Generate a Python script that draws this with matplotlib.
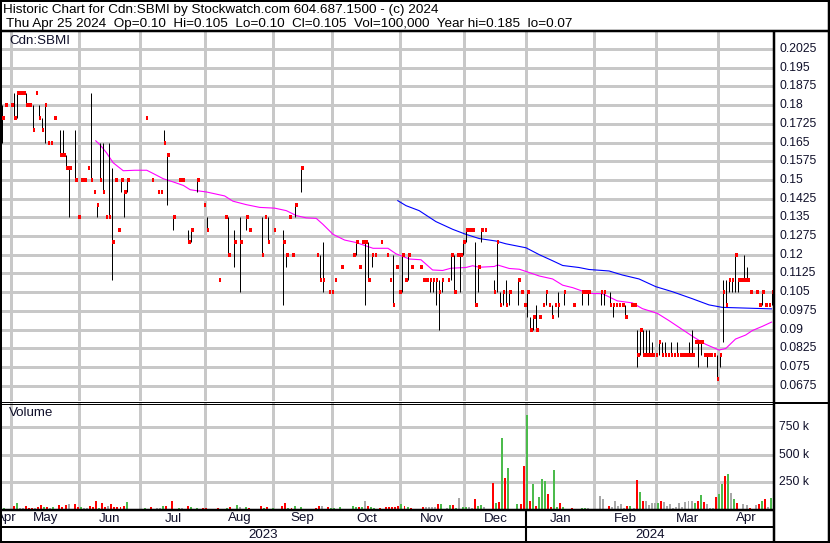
import matplotlib
matplotlib.use('Agg')
import matplotlib.pyplot as plt
from matplotlib.lines import Line2D
import numpy as np

plt.rcParams['font.family'] = ['Liberation Sans', 'DejaVu Sans']

# ---------------- data ----------------
title_line1 = "Historic Chart for Cdn:SBMI by Stockwatch.com 604.687.1500 - (c) 2024"
title_line2 = ("Thu Apr 25 2024  Op=0.10  Hi=0.105  Lo=0.10  Cl=0.105  "
               "Vol=100,000  Year hi=0.185  lo=0.07")
symbol = "Cdn:SBMI"

# trading-day index (0 = Apr 25 2023 ... 252 = Apr 25 2024)
price_days = [
    0, 1, 3, 4, 5, 6, 7, 8, 9, 10,
    11, 12, 13, 14, 15, 16, 17, 19, 20, 21,
    22, 24, 25, 26, 27, 28, 29, 30, 31, 32,
    33, 34, 35, 36, 37, 38, 39, 40, 41, 47,
    49, 51, 52, 53, 54, 56, 58, 59, 61, 62,
    64, 66, 67, 71, 73, 74, 76, 78, 80, 81,
    85, 86, 87, 89, 92, 93, 94, 95, 96, 98,
    103, 104, 105, 107, 108, 109, 111, 115, 116, 117,
    118, 119, 120, 121, 122, 124, 126, 127, 128, 129,
    130, 131, 132, 133, 134, 137, 138, 139, 140, 141,
    142, 143, 144, 146, 147, 148, 149, 150, 151, 152,
    153, 154, 155, 156, 157, 158, 161, 162, 163, 164,
    165, 166, 169, 170, 171, 172, 173, 174, 175, 176,
    177, 178, 179, 180, 181, 182, 184, 187, 190, 191,
    192, 196, 197, 199, 200, 201, 202, 203, 204, 206,
    207, 208, 209, 210, 211, 212, 213, 214, 215, 216,
    217, 218, 219, 220, 221, 222, 223, 224, 225, 226,
    227, 228, 229, 230, 231, 232, 233, 234, 235, 236,
    237, 238, 239, 240, 241, 242, 243, 244, 245, 247,
    248, 249, 250, 251, 252]
highs = [
    .18, .18, .18, .185, .185, .185, .185, .185, .18, .18,
    .185, .18, .175, .18, .165, .165, .175, .17, .17, .16,
    .155, .17, .135, .15, .15, .155, .185, .145, .14, .165,
    .165, .135, .165, .155, .15, .13, .15, .145, .15, .175,
    .15, .145, .145, .17, .16, .135, .15, .15, .13, .13,
    .15, .14, .135, .11, .135, .135, .13, .135, .135, .13,
    .135, .135, .135, .13, .13, .12, .135, .12, .14, .155,
    .12, .12, .125, .105, .105, .11, .115, .12, .125, .115,
    .125, .125, .125, .12, .12, .125, .12, .11, .12, .115,
    .105, .12, .11, .12, .115, .115, .11, .11, .11, .11,
    .11, .11, .11, .11, .12, .12, .12, .12, .125, .13,
    .13, .13, .125, .115, .13, .13, .11, .125, .105, .105,
    .11, .105, .11, .105, .10, .105, .095, .095, .10, .095,
    .10, .105, .10, .10, .10, .105, .105, .10, .105, .105,
    .105, .105, .105, .105, .10, .10, .10, .10, .10, .10,
    .10, .09, .09, .09, .09, .09, .085, .08, .085, .085,
    .085, .08, .085, .08, .085, .08, .08, .08, .085, .09,
    .085, .085, .085, .08, .08, .08, .08, .08, .08, .11,
    .11, .11, .11, .12, .11, .11, .12, .115, .105, .105,
    .10, .105, .10, .10, .105]
lows = [
    .165, .18, .18, .175, .175, .185, .185, .18, .18, .17,
    .185, .175, .17, .165, .165, .165, .175, .16, .16, .155,
    .135, .15, .135, .15, .15, .155, .15, .145, .135, .15,
    .145, .135, .135, .11, .15, .13, .145, .135, .145, .175,
    .15, .145, .145, .165, .14, .13, .15, .15, .125, .125,
    .145, .14, .13, .11, .135, .12, .115, .105, .13, .13,
    .12, .135, .125, .13, .10, .115, .135, .12, .135, .145,
    .12, .11, .105, .105, .105, .11, .115, .12, .12, .115,
    .125, .10, .11, .115, .12, .125, .12, .11, .10, .115,
    .105, .105, .11, .11, .115, .115, .11, .11, .105, .105,
    .10, .09, .105, .11, .11, .105, .12, .105, .12, .125,
    .13, .13, .10, .105, .125, .13, .105, .105, .10, .10,
    .10, .10, .10, .105, .10, .095, .09, .09, .09, .095,
    .10, .10, .10, .095, .10, .095, .10, .10, .10, .105,
    .10, .10, .10, .10, .095, .10, .10, .10, .095, .10,
    .10, .075, .08, .08, .08, .08, .08, .08, .08, .08,
    .08, .08, .08, .08, .08, .08, .08, .08, .08, .08,
    .085, .075, .08, .08, .075, .08, .08, .07, .075, .085,
    .10, .105, .105, .105, .105, .11, .11, .11, .105, .105,
    .10, .10, .10, .10, .10]
closes = [
    .175, .18, .18, .175, .185, .185, .185, .18, .18, .17,
    .185, .175, .17, .18, .165, .165, .175, .16, .16, .155,
    .155, .15, .135, .15, .15, .155, .15, .145, .14, .15,
    .145, .135, .135, .125, .15, .13, .15, .145, .15, .175,
    .15, .145, .145, .165, .16, .135, .15, .15, .125, .13,
    .15, .14, .13, .11, .135, .12, .125, .125, .135, .13,
    .12, .135, .125, .13, .125, .12, .135, .12, .14, .155,
    .12, .11, .11, .105, .105, .11, .115, .12, .125, .115,
    .125, .125, .11, .12, .12, .125, .12, .11, .10, .115,
    .105, .12, .11, .12, .115, .115, .11, .11, .11, .11,
    .11, .105, .11, .11, .12, .105, .12, .12, .125, .13,
    .13, .13, .10, .115, .13, .13, .105, .125, .10, .105,
    .10, .105, .11, .105, .10, .105, .09, .095, .09, .095,
    .10, .105, .10, .095, .10, .10, .105, .10, .105, .105,
    .105, .105, .105, .10, .10, .10, .10, .10, .095, .10,
    .10, .08, .09, .08, .08, .08, .08, .08, .085, .08,
    .08, .08, .08, .08, .08, .08, .08, .08, .08, .08,
    .085, .085, .085, .08, .08, .08, .08, .07, .08, .105,
    .10, .11, .11, .12, .11, .11, .11, .11, .105, .105,
    .10, .105, .10, .10, .105]

# moving averages (sampled along the drawn lines)
ma_short_days = [30.7, 32.1, 34.1, 36.4, 39.7, 43.5, 47.4, 49.5, 52.8, 56.1, 59.4, 61.6,
                 63.2, 66.9, 72.9, 75.6, 80.0, 84.4, 89.3, 93.1, 96.4, 99.6, 102.9, 105.1,
                 108.4, 112.2, 116.0, 119.3, 121.5, 126.4, 129.0, 133.4, 137.2, 141.0,
                 144.3, 147.0, 151.9, 154.1, 156.3, 161.2, 162.3, 166.1, 169.4, 171.6,
                 175.9, 180.3, 183.6, 186.9, 192.2, 196.6, 201.5, 206.4, 209.7, 214.6,
                 218.4, 222.8, 226.6, 230.4, 234.8, 237.0, 240.2, 243.5, 245.7, 249.0,
                 252.0]
ma_short = [.1657, .1641, .1611, .1569, .1537, .1539, .1539, .1526, .1505, .1492, .1478,
            .1461, .1458, .1452, .1436, .1415, .1401, .1390, .1387, .1377, .1357, .1348,
            .1346, .1322, .1282, .1259, .1249, .1235, .1226, .1226, .1204, .1183, .1180,
            .1139, .1137, .1146, .1149, .1156, .1150, .1153, .1159, .1145, .1142, .1133,
            .1115, .1103, .1078, .1068, .1045, .1044, .1015, .1007, .0984, .0965, .0936,
            .0900, .0869, .0841, .0818, .0824, .0862, .0878, .0896, .0913, .0930]
ma_long_days = [129.6, 132.3, 136.6, 142.1, 147.6, 151.9, 156.3, 161.8, 165.0, 171.6,
                176.0, 180.3, 183.6, 188.9, 192.2, 198.8, 203.1, 208.6, 214.1, 219.5,
                226.0, 231.5, 235.9, 252.0]
ma_long = [.1417, .1397, .1377, .1333, .1302, .1282, .1265, .1255, .1244, .1228, .1200,
           .1176, .1157, .1149, .1141, .1135, .1119, .1103, .1072, .1052, .1024, .0999,
           .0989, .0983]

# volume (thousands of shares); direction g = up, r = down, n = unchanged
vol_days = [
    0, 1, 4, 5, 6, 7, 8, 9, 10, 11,
    12, 13, 14, 15, 16, 17, 19, 20, 21, 22,
    24, 25, 26, 27, 28, 29, 30, 31, 32, 33,
    34, 35, 36, 37, 38, 39, 40, 41, 47, 49,
    51, 52, 53, 54, 56, 58, 59, 61, 62, 64,
    66, 67, 71, 74, 75, 77, 78, 80, 81, 85,
    86, 87, 89, 92, 93, 94, 95, 96, 98, 103,
    104, 105, 107, 108, 109, 111, 115, 116, 117, 118,
    119, 120, 121, 122, 124, 126, 127, 128, 129, 130,
    131, 132, 133, 134, 138, 139, 140, 141, 142, 143,
    144, 146, 147, 148, 149, 150, 151, 152, 153, 154,
    155, 156, 157, 158, 161, 162, 163, 164, 165, 166,
    169, 170, 171, 172, 173, 174, 175, 176, 177, 178,
    179, 180, 181, 182, 183, 184, 187, 190, 191, 192,
    196, 197, 199, 200, 201, 202, 203, 204, 205, 206,
    207, 208, 209, 210, 211, 212, 213, 214, 215, 216,
    217, 218, 219, 220, 221, 222, 223, 224, 225, 226,
    227, 228, 229, 230, 231, 232, 233, 234, 235, 236,
    237, 238, 239, 240, 241, 243, 244, 245, 247, 248,
    249, 250, 251, 252]
volumes = [
    64, 9, 31, 55, 9, 9, 28, 9, 9, 9,
    15, 37, 21, 21, 12, 21, 37, 21, 37, 46,
    46, 15, 21, 12, 12, 31, 15, 74, 12, 58,
    15, 31, 49, 15, 21, 15, 28, 64, 9, 18,
    9, 12, 28, 31, 74, 12, 12, 28, 15, 12,
    12, 12, 12, 12, 21, 37, 18, 21, 12, 28,
    12, 21, 12, 28, 55, 12, 12, 28, 18, 12,
    31, 31, 21, 12, 12, 18, 28, 21, 15, 21,
    74, 31, 21, 12, 12, 15, 21, 21, 15, 25,
    49, 31, 21, 12, 18, 18, 21, 21, 21, 49,
    49, 12, 40, 40, 12, 104, 18, 21, 21, 12,
    95, 30, 40, 21, 242, 58, 67, 653, 288, 380,
    49, 49, 398, 868, 76, 233, 31, 113, 279, 260,
    141, 21, 362, 21, 58, 21, 12, 12, 12, 12,
    123, 95, 31, 21, 76, 31, 49, 12, 31, 31,
    12, 270, 160, 76, 76, 40, 58, 58, 58, 76,
    67, 31, 49, 12, 21, 58, 21, 67, 76, 76,
    58, 76, 132, 67, 49, 12, 12, 113, 141, 233,
    306, 325, 150, 95, 58, 49, 40, 12, 40, 49,
    76, 95, 21, 104]
vol_dirs = list(
    "ngrgnnrrrn"
    "rrgrngrrrn"
    "rrgnnrrrgr"
    "rnrrrrrggr"
    "nngrrgnrgg"
    "rrrgrgngrr"
    "grgrrgrggr"
    "rnrgggggrg"
    "nrggrrrrrr"
    "grgrrnnnnr"
    "gngrgnggnn"
    "rggnrgrgrg"
    "grrgrgrggg"
    "rrggrgrggn"
    "nnrnnnnnrg"
    "nrgrnnnngr"
    "nnnnnnnnnn"
    "grgrnnnrgg"
    "rgngrnnrnr"
    "grng")

month_names = ["Apr", "May", "Jun", "Jul", "Aug", "Sep", "Oct", "Nov", "Dec",
               "Jan", "Feb", "Mar", "Apr"]
# month boundaries on the trading-day axis
month_edges = [3.0, 25.3, 45.3, 66.6, 88.8, 108.2, 130.4, 151.4, 171.7, 194.0, 214.2, 234.5]
year_names = ["2023", "2024"]
year_edge = 171.7

price_ticks = [0.0675 + 0.0075 * i for i in range(19)]
vol_ticks = [250, 500, 750]

# ---------------- layout ----------------
W, H = 830, 543
fig = plt.figure(figsize=(W / 100, H / 100), dpi=100)


def rect(x0, y0, x1, y1):
    return [x0 / W, 1 - y1 / H, (x1 - x0) / W, (y1 - y0) / H]


def fx(x):
    return x / W


def fy(y):
    return 1 - y / H


def hline(y, x0, x1, lw=1.0, color='black'):
    fig.add_artist(Line2D([fx(x0), fx(x1)], [fy(y), fy(y)], transform=fig.transFigure,
                          color=color, lw=lw * 0.72, solid_capstyle='butt'))


def vline(x, y0, y1, lw=1.0, color='black'):
    fig.add_artist(Line2D([fx(x), fx(x)], [fy(y0), fy(y1)], transform=fig.transFigure,
                          color=color, lw=lw * 0.72, solid_capstyle='butt'))


XL = (-0.33, 252.8)
GRID = '#c8c8c8'
TXT = '#10102a'
FS = 9.6

# price panel
axp = fig.add_axes(rect(1, 32, 774, 401))
axp.set_xlim(*XL)
axp.set_ylim(0.06135, 0.20935)
axp.axis('off')
for t in price_ticks:
    axp.axhline(t, color=GRID, lw=0.75, zorder=0, antialiased=False)
for e in month_edges:
    axp.axvline(e, color=GRID, lw=0.75, zorder=0, antialiased=False)

d = np.array(price_days, dtype=float)
hi = np.array(highs)
lo = np.array(lows)
cl = np.array(closes)
rng = hi > lo
hl = axp.vlines(d[rng], lo[rng], hi[rng], colors='black', lw=0.72, zorder=3)
hl.set_snap(True)
axp.hlines(cl, d, d + 0.85, colors='#ff0000', lw=1.5, zorder=4, antialiased=False)
axp.plot(ma_short_days, ma_short, color='#ff00ff', lw=0.8, zorder=2)
axp.plot(ma_long_days, ma_long, color='#0000ff', lw=0.8, zorder=2)

# volume panel
axv = fig.add_axes(rect(1, 403, 774, 509))
axv.set_xlim(*XL)
axv.set_ylim(0, (509 - 403) * 9.2)
axv.axis('off')
for t in vol_ticks:
    axv.axhline(t, color=GRID, lw=0.75, zorder=0, antialiased=False)
for e in month_edges:
    axv.axvline(e, color=GRID, lw=0.75, zorder=0, antialiased=False)
cmap = {'g': '#4cbb4c', 'r': '#ff0000', 'n': '#a8a8a8'}
vcols = [cmap[c] for c in vol_dirs]
axv.bar(np.array(vol_days) - 0.2, volumes, width=0.65, color=vcols, zorder=2,
        antialiased=False)

fig.text(fx(9), fy(41), symbol, fontsize=FS, color=TXT, ha='left', va='center')
fig.text(fx(9), fy(413), "Volume", fontsize=FS, color=TXT, ha='left', va='center')

# date strip
axd = fig.add_axes(rect(1, 509, 774, 542))
axd.set_xlim(*XL)
axd.set_ylim(33, 0)
axd.axis('off')
edges = [XL[0]] + month_edges + [XL[1]]
for i, m in enumerate(month_names):
    axd.text((edges[i] + edges[i + 1]) / 2, 9.5, m, ha='center', va='center',
             fontsize=FS, color=TXT, clip_on=True)
axd.text((XL[0] + year_edge) / 2, 25.5, year_names[0], ha='center', va='center',
         fontsize=FS, color=TXT)
axd.text((year_edge + XL[1]) / 2, 25.5, year_names[1], ha='center', va='center',
         fontsize=FS, color=TXT)
axd.axvline(year_edge, color='black', lw=1.5)

# right-hand scale labels
pmin, pmax = axp.get_ylim()
for t in price_ticks:
    y = 32 + (pmax - t) / (pmax - pmin) * (401 - 32)
    fig.text(fx(779), fy(y), ('%.4f' % t).rstrip('0'), fontsize=8.7, color=TXT,
             ha='left', va='center')
vmax = axv.get_ylim()[1]
for t in vol_ticks:
    y = 509 - t / vmax * (509 - 403)
    fig.text(fx(779), fy(y), '%d k' % t, fontsize=8.7, color=TXT, ha='left', va='center')

# header
fig.text(fx(3), fy(9.5), title_line1, fontsize=9.7, color='black', ha='left', va='center')
fig.text(fx(6), fy(24), title_line2, fontsize=9.7, color='black', ha='left', va='center')

# frame lines
hline(0.8, 0, 830, lw=2)
hline(30.5, 0, 830, lw=2.5)
hline(401.5, 0, 774, lw=1)
hline(403.5, 0, 774, lw=1)
hline(402.5, 774, 830, lw=2)
hline(509.5, 0, 775, lw=2.5)
hline(526.5, 0, 775, lw=2)
hline(541.5, 0, 830, lw=2)
vline(1, 0, 543, lw=2)
vline(774, 30, 542, lw=2.5)
vline(828.5, 0, 543, lw=2.5)

fig.savefig('out.png', dpi=100)
